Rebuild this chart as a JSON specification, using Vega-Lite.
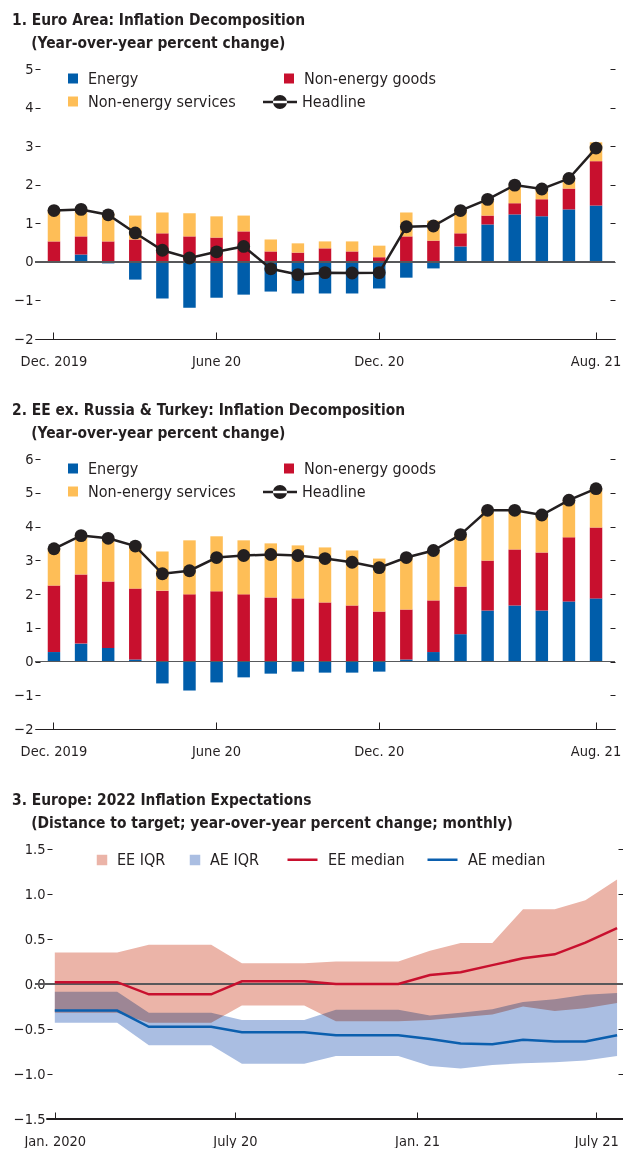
{
  "$schema": "https://vega.github.io/schema/vega-lite/v6.json",
  "background": "white",
  "padding": {"left": 12, "top": 12, "right": 0, "bottom": 0},
  "config": {
    "font": "DejaVu Sans Condensed",
    "view": {"stroke": null},
    "axis": {"labelFont": "DejaVu Sans Condensed", "labelFontSize": 14.5, "labelColor": "#231F20", "tickColor": "#231F20", "domainColor": "#231F20", "grid": false, "title": null, "labelAngle": 0},
    "legend": {"labelFont": "DejaVu Sans Condensed", "labelFontSize": 16, "labelColor": "#231F20", "title": null, "orient": "none", "padding": 0},
    "title": {"anchor": "start", "frame": "group", "font": "DejaVu Sans Condensed", "fontSize": 15.4, "fontWeight": "bold", "color": "#231F20", "lineHeight": 23, "offset": 10}
  },
  "datasets": {
    "ea": [
      {"m": "2019-12", "Energy": 0.0, "Non-energy goods": 0.53, "Non-energy services": 0.82, "Headline": 1.33},
      {"m": "2020-01", "Energy": 0.19, "Non-energy goods": 0.47, "Non-energy services": 0.72, "Headline": 1.36},
      {"m": "2020-02", "Energy": -0.04, "Non-energy goods": 0.53, "Non-energy services": 0.73, "Headline": 1.22},
      {"m": "2020-03", "Energy": -0.46, "Non-energy goods": 0.58, "Non-energy services": 0.62, "Headline": 0.75},
      {"m": "2020-04", "Energy": -0.95, "Non-energy goods": 0.74, "Non-energy services": 0.54, "Headline": 0.30},
      {"m": "2020-05", "Energy": -1.19, "Non-energy goods": 0.66, "Non-energy services": 0.60, "Headline": 0.10},
      {"m": "2020-06", "Energy": -0.93, "Non-energy goods": 0.63, "Non-energy services": 0.55, "Headline": 0.26},
      {"m": "2020-07", "Energy": -0.85, "Non-energy goods": 0.79, "Non-energy services": 0.41, "Headline": 0.40},
      {"m": "2020-08", "Energy": -0.77, "Non-energy goods": 0.27, "Non-energy services": 0.31, "Headline": -0.18},
      {"m": "2020-09", "Energy": -0.82, "Non-energy goods": 0.24, "Non-energy services": 0.24, "Headline": -0.33},
      {"m": "2020-10", "Energy": -0.82, "Non-energy goods": 0.35, "Non-energy services": 0.18, "Headline": -0.28},
      {"m": "2020-11", "Energy": -0.82, "Non-energy goods": 0.27, "Non-energy services": 0.26, "Headline": -0.29},
      {"m": "2020-12", "Energy": -0.69, "Non-energy goods": 0.12, "Non-energy services": 0.30, "Headline": -0.28},
      {"m": "2021-01", "Energy": -0.41, "Non-energy goods": 0.66, "Non-energy services": 0.62, "Headline": 0.91},
      {"m": "2021-02", "Energy": -0.17, "Non-energy goods": 0.55, "Non-energy services": 0.52, "Headline": 0.93},
      {"m": "2021-03", "Energy": 0.40, "Non-energy goods": 0.34, "Non-energy services": 0.64, "Headline": 1.33},
      {"m": "2021-04", "Energy": 0.97, "Non-energy goods": 0.23, "Non-energy services": 0.40, "Headline": 1.62},
      {"m": "2021-05", "Energy": 1.23, "Non-energy goods": 0.29, "Non-energy services": 0.45, "Headline": 1.99},
      {"m": "2021-06", "Energy": 1.18, "Non-energy goods": 0.44, "Non-energy services": 0.28, "Headline": 1.89},
      {"m": "2021-07", "Energy": 1.36, "Non-energy goods": 0.54, "Non-energy services": 0.28, "Headline": 2.16},
      {"m": "2021-08", "Energy": 1.46, "Non-energy goods": 1.15, "Non-energy services": 0.49, "Headline": 2.95}
    ],
    "ee": [
      {"m": "2019-12", "Energy": 0.28, "Non-energy goods": 1.97, "Non-energy services": 1.09, "Headline": 3.34},
      {"m": "2020-01", "Energy": 0.53, "Non-energy goods": 2.05, "Non-energy services": 1.15, "Headline": 3.73},
      {"m": "2020-02", "Energy": 0.40, "Non-energy goods": 1.97, "Non-energy services": 1.28, "Headline": 3.65},
      {"m": "2020-03", "Energy": 0.06, "Non-energy goods": 2.10, "Non-energy services": 1.26, "Headline": 3.42},
      {"m": "2020-04", "Energy": -0.65, "Non-energy goods": 2.10, "Non-energy services": 1.16, "Headline": 2.60},
      {"m": "2020-05", "Energy": -0.86, "Non-energy goods": 1.99, "Non-energy services": 1.60, "Headline": 2.69},
      {"m": "2020-06", "Energy": -0.62, "Non-energy goods": 2.08, "Non-energy services": 1.63, "Headline": 3.08},
      {"m": "2020-07", "Energy": -0.47, "Non-energy goods": 1.99, "Non-energy services": 1.60, "Headline": 3.14},
      {"m": "2020-08", "Energy": -0.36, "Non-energy goods": 1.90, "Non-energy services": 1.60, "Headline": 3.17},
      {"m": "2020-09", "Energy": -0.30, "Non-energy goods": 1.87, "Non-energy services": 1.57, "Headline": 3.14},
      {"m": "2020-10", "Energy": -0.33, "Non-energy goods": 1.75, "Non-energy services": 1.63, "Headline": 3.05},
      {"m": "2020-11", "Energy": -0.33, "Non-energy goods": 1.66, "Non-energy services": 1.63, "Headline": 2.94},
      {"m": "2020-12", "Energy": -0.30, "Non-energy goods": 1.48, "Non-energy services": 1.57, "Headline": 2.78},
      {"m": "2021-01", "Energy": 0.06, "Non-energy goods": 1.48, "Non-energy services": 1.56, "Headline": 3.08},
      {"m": "2021-02", "Energy": 0.28, "Non-energy goods": 1.53, "Non-energy services": 1.48, "Headline": 3.29},
      {"m": "2021-03", "Energy": 0.81, "Non-energy goods": 1.41, "Non-energy services": 1.54, "Headline": 3.76},
      {"m": "2021-04", "Energy": 1.51, "Non-energy goods": 1.48, "Non-energy services": 1.49, "Headline": 4.48},
      {"m": "2021-05", "Energy": 1.66, "Non-energy goods": 1.66, "Non-energy services": 1.16, "Headline": 4.48},
      {"m": "2021-06", "Energy": 1.51, "Non-energy goods": 1.72, "Non-energy services": 1.11, "Headline": 4.34},
      {"m": "2021-07", "Energy": 1.78, "Non-energy goods": 1.90, "Non-energy services": 1.10, "Headline": 4.78},
      {"m": "2021-08", "Energy": 1.87, "Non-energy goods": 2.10, "Non-energy services": 1.15, "Headline": 5.12}
    ],
    "exp": [
      {"date": "2020-01-01", "ee_lo": -0.32, "ee_hi": 0.35, "ee_med": 0.02, "ae_lo": -0.43, "ae_hi": -0.085, "ae_med": -0.295},
      {"date": "2020-02-01", "ee_lo": -0.32, "ee_hi": 0.35, "ee_med": 0.02, "ae_lo": -0.43, "ae_hi": -0.085, "ae_med": -0.295},
      {"date": "2020-03-04", "ee_lo": -0.32, "ee_hi": 0.35, "ee_med": 0.02, "ae_lo": -0.43, "ae_hi": -0.085, "ae_med": -0.295},
      {"date": "2020-04-05", "ee_lo": -0.43, "ee_hi": 0.435, "ee_med": -0.115, "ae_lo": -0.68, "ae_hi": -0.32, "ae_med": -0.475},
      {"date": "2020-05-06", "ee_lo": -0.43, "ee_hi": 0.435, "ee_med": -0.115, "ae_lo": -0.68, "ae_hi": -0.32, "ae_med": -0.475},
      {"date": "2020-06-07", "ee_lo": -0.43, "ee_hi": 0.435, "ee_med": -0.115, "ae_lo": -0.68, "ae_hi": -0.32, "ae_med": -0.475},
      {"date": "2020-07-08", "ee_lo": -0.24, "ee_hi": 0.23, "ee_med": 0.03, "ae_lo": -0.885, "ae_hi": -0.40, "ae_med": -0.535},
      {"date": "2020-08-09", "ee_lo": -0.24, "ee_hi": 0.23, "ee_med": 0.03, "ae_lo": -0.885, "ae_hi": -0.40, "ae_med": -0.535},
      {"date": "2020-09-09", "ee_lo": -0.24, "ee_hi": 0.23, "ee_med": 0.03, "ae_lo": -0.885, "ae_hi": -0.40, "ae_med": -0.535},
      {"date": "2020-10-11", "ee_lo": -0.415, "ee_hi": 0.25, "ee_med": 0.0, "ae_lo": -0.80, "ae_hi": -0.285, "ae_med": -0.57},
      {"date": "2020-11-11", "ee_lo": -0.415, "ee_hi": 0.25, "ee_med": 0.0, "ae_lo": -0.80, "ae_hi": -0.285, "ae_med": -0.57},
      {"date": "2020-12-13", "ee_lo": -0.415, "ee_hi": 0.25, "ee_med": 0.0, "ae_lo": -0.80, "ae_hi": -0.285, "ae_med": -0.57},
      {"date": "2021-01-14", "ee_lo": -0.40, "ee_hi": 0.37, "ee_med": 0.10, "ae_lo": -0.91, "ae_hi": -0.35, "ae_med": -0.61},
      {"date": "2021-02-14", "ee_lo": -0.37, "ee_hi": 0.455, "ee_med": 0.13, "ae_lo": -0.94, "ae_hi": -0.32, "ae_med": -0.66},
      {"date": "2021-03-18", "ee_lo": -0.34, "ee_hi": 0.455, "ee_med": 0.21, "ae_lo": -0.90, "ae_hi": -0.28, "ae_med": -0.67},
      {"date": "2021-04-18", "ee_lo": -0.25, "ee_hi": 0.83, "ee_med": 0.285, "ae_lo": -0.88, "ae_hi": -0.20, "ae_med": -0.62},
      {"date": "2021-05-20", "ee_lo": -0.30, "ee_hi": 0.83, "ee_med": 0.33, "ae_lo": -0.87, "ae_hi": -0.17, "ae_med": -0.64},
      {"date": "2021-06-20", "ee_lo": -0.27, "ee_hi": 0.93, "ee_med": 0.46, "ae_lo": -0.85, "ae_hi": -0.12, "ae_med": -0.64},
      {"date": "2021-07-22", "ee_lo": -0.21, "ee_hi": 1.16, "ee_med": 0.62, "ae_lo": -0.80, "ae_hi": -0.10, "ae_med": -0.57}
    ]
  },
  "columns": 1,
  "spacing": 34,
  "resolve": {"scale": {"color": "independent", "stroke": "independent", "fill": "independent", "x": "independent", "y": "independent"}},
  "concat": [
    {
      "width": 580, "height": 270,
      "title": {"text": ["1. Euro Area: Inflation Decomposition", "\u200b\u00a0\u00a0\u00a0\u00a0(Year-over-year percent change)"], "dx": -23},
      "data": {"name": "ea"},
      "resolve": {"axis": {"y": "independent"}},
      "layer": [
        {
          "transform": [{"fold": ["Energy", "Non-energy goods", "Non-energy services"], "as": ["component", "value"]}],
          "mark": {"type": "bar"},
          "encoding": {
            "x": {"field": "m", "type": "ordinal", "scale": {"paddingInner": 0.54, "paddingOuter": 0.47},
                  "axis": {"values": ["2019-12", "2020-06", "2020-12", "2021-08"], "labelExpr": "datum.value=='2019-12'?'Dec. 2019':datum.value=='2020-06'?'June 20':datum.value=='2020-12'?'Dec. 20':'Aug. 21'", "tickSize": -7, "labelPadding": 22, "domainWidth": 1.2}},
            "y": {"field": "value", "type": "quantitative", "stack": "zero", "scale": {"domain": [-2, 5], "nice": false, "zero": false},
                  "axis": {"orient": "left", "values": [-2, -1, 0, 1, 2, 3, 4, 5], "tickSize": -5, "labelPadding": 7, "domain": false}},
            "color": {"field": "component", "type": "nominal",
                      "scale": {"domain": ["Energy", "Non-energy goods", "Non-energy services"], "range": ["#005DAA", "#C8102E", "#FEBE57"]},
                      "legend": {"legendX": 30, "legendY": 1.5, "direction": "horizontal", "columns": 2, "columnPadding": 45, "rowPadding": 7, "symbolType": "square", "symbolSize": 100, "symbolStrokeWidth": 0, "labelOffset": 7}},
            "order": {"field": "component", "sort": "ascending"}
          }
        },
        {
          "mark": {"type": "rule", "color": "#58595B", "strokeWidth": 1},
          "encoding": {"y": {"datum": 0, "type": "quantitative", "axis": {"orient": "right", "values": [-2, -1, 0, 1, 2, 3, 4, 5], "tickSize": -5, "labels": false, "domain": false}}}
        },
        {
          "mark": {"type": "line", "strokeWidth": 2.5},
          "encoding": {
            "x": {"field": "m", "type": "ordinal"},
            "y": {"field": "Headline", "type": "quantitative", "axis": null},
            "stroke": {"datum": "Headline", "scale": {"domain": ["Headline"], "range": ["#231F20"]},
                       "legend": {"legendX": 228, "legendY": 16, "symbolType": "M-1,-0.075H1V0.075H-1Z M-0.41,0A0.41,0.41,0,1,0,0.41,0A0.41,0.41,0,1,0,-0.41,0Z", "symbolSize": 1156, "symbolFillColor": "#231F20", "symbolStrokeWidth": 0, "labelOffset": 5,
                                  "encode": {"symbols": {"update": {"fill": {"value": "#231F20"}, "strokeWidth": {"value": 0}}}}}}
          }
        },
        {
          "mark": {"type": "point", "filled": true, "size": 165, "color": "#231F20", "opacity": 1},
          "encoding": {
            "x": {"field": "m", "type": "ordinal"},
            "y": {"field": "Headline", "type": "quantitative", "axis": null}
          }
        }
      ]
    },
    {
      "width": 580, "height": 270,
      "title": {"text": ["2. EE ex. Russia & Turkey: Inflation Decomposition", "\u200b\u00a0\u00a0\u00a0\u00a0(Year-over-year percent change)"], "dx": -23},
      "data": {"name": "ee"},
      "resolve": {"axis": {"y": "independent"}},
      "layer": [
        {
          "transform": [{"fold": ["Energy", "Non-energy goods", "Non-energy services"], "as": ["component", "value"]}],
          "mark": {"type": "bar"},
          "encoding": {
            "x": {"field": "m", "type": "ordinal", "scale": {"paddingInner": 0.54, "paddingOuter": 0.47},
                  "axis": {"values": ["2019-12", "2020-06", "2020-12", "2021-08"], "labelExpr": "datum.value=='2019-12'?'Dec. 2019':datum.value=='2020-06'?'June 20':datum.value=='2020-12'?'Dec. 20':'Aug. 21'", "tickSize": -7, "labelPadding": 22, "domainWidth": 1.2}},
            "y": {"field": "value", "type": "quantitative", "stack": "zero", "scale": {"domain": [-2, 6], "nice": false, "zero": false},
                  "axis": {"orient": "left", "values": [-2, -1, 0, 1, 2, 3, 4, 5, 6], "tickSize": -5, "labelPadding": 7, "domain": false}},
            "color": {"field": "component", "type": "nominal",
                      "scale": {"domain": ["Energy", "Non-energy goods", "Non-energy services"], "range": ["#005DAA", "#C8102E", "#FEBE57"]},
                      "legend": {"legendX": 30, "legendY": 1.5, "direction": "horizontal", "columns": 2, "columnPadding": 45, "rowPadding": 7, "symbolType": "square", "symbolSize": 100, "symbolStrokeWidth": 0, "labelOffset": 7}},
            "order": {"field": "component", "sort": "ascending"}
          }
        },
        {
          "mark": {"type": "rule", "color": "#58595B", "strokeWidth": 1},
          "encoding": {"y": {"datum": 0, "type": "quantitative", "axis": {"orient": "right", "values": [-2, -1, 0, 1, 2, 3, 4, 5, 6], "tickSize": -5, "labels": false, "domain": false}}}
        },
        {
          "mark": {"type": "line", "strokeWidth": 2.5},
          "encoding": {
            "x": {"field": "m", "type": "ordinal"},
            "y": {"field": "Headline", "type": "quantitative", "axis": null},
            "stroke": {"datum": "Headline", "scale": {"domain": ["Headline"], "range": ["#231F20"]},
                       "legend": {"legendX": 228, "legendY": 16, "symbolType": "M-1,-0.075H1V0.075H-1Z M-0.41,0A0.41,0.41,0,1,0,0.41,0A0.41,0.41,0,1,0,-0.41,0Z", "symbolSize": 1156, "symbolFillColor": "#231F20", "symbolStrokeWidth": 0, "labelOffset": 5,
                                  "encode": {"symbols": {"update": {"fill": {"value": "#231F20"}, "strokeWidth": {"value": 0}}}}}}
          }
        },
        {
          "mark": {"type": "point", "filled": true, "size": 165, "color": "#231F20", "opacity": 1},
          "encoding": {
            "x": {"field": "m", "type": "ordinal"},
            "y": {"field": "Headline", "type": "quantitative", "axis": null}
          }
        }
      ]
    },
    {
      "width": 588, "height": 270,
      "title": {"text": ["3. Europe: 2022 Inflation Expectations", "\u200b\u00a0\u00a0\u00a0\u00a0(Distance to target; year-over-year percent change; monthly)"], "dx": -23},
      "data": {"name": "exp"},
      "resolve": {"axis": {"y": "independent"}},
      "layer": [
        {
          "mark": {"type": "area", "blend": "multiply", "opacity": 1},
          "encoding": {
            "x": {"field": "date", "type": "temporal",
                  "scale": {"domain": [{"year": 2019, "month": 12, "date": 12}, {"year": 2021, "month": 7, "date": 28}]},
                  "axis": {"values": [{"year": 2020, "month": 1, "date": 1}, {"year": 2020, "month": 7, "date": 1}, {"year": 2021, "month": 1, "date": 1}, {"year": 2021, "month": 7, "date": 1}],
                           "labelExpr": "month(datum.value)==0 ? (year(datum.value)==2020 ? 'Jan. 2020' : 'Jan. 21') : (year(datum.value)==2020 ? 'July 20' : 'July 21')",
                           "tickSize": -7, "labelPadding": 22, "domain": false, "labelFlush": false}},
            "y": {"field": "ae_lo", "type": "quantitative", "scale": {"domain": [-1.5, 1.5], "nice": false, "zero": false},
                  "axis": {"orient": "left", "offset": -12, "values": [-1.5, -1, -0.5, 0, 0.5, 1, 1.5], "format": ".1f", "tickSize": -5, "labelPadding": 7, "domain": false}},
            "y2": {"field": "ae_hi"},
            "fill": {"datum": "AE IQR", "scale": {"domain": ["EE IQR", "AE IQR"], "range": ["#EBB4A8", "#AABEE2"]},
                     "legend": {"legendX": 59, "legendY": 3, "direction": "horizontal", "columnPadding": 21, "symbolType": "square", "symbolSize": 110, "symbolStrokeWidth": 0, "labelOffset": 7}}
          }
        },
        {
          "mark": {"type": "area", "blend": "multiply", "opacity": 1},
          "encoding": {
            "x": {"field": "date", "type": "temporal"},
            "y": {"field": "ee_lo", "type": "quantitative", "axis": null},
            "y2": {"field": "ee_hi"},
            "fill": {"datum": "EE IQR"}
          }
        },
        {
          "mark": {"type": "rule", "color": "#58595B", "strokeWidth": 1},
          "encoding": {"y": {"datum": 0, "type": "quantitative", "axis": {"orient": "right", "values": [-1.5, -1, -0.5, 0, 0.5, 1, 1.5], "tickSize": -5, "labels": false, "domain": false}}}
        },
        {
          "mark": {"type": "rule", "color": "#231F20", "strokeWidth": 1.2},
          "encoding": {
            "x": {"datum": {"year": 2019, "month": 12, "date": 24}, "type": "temporal"},
            "x2": {"datum": {"year": 2021, "month": 7, "date": 28}},
            "y": {"datum": -1.5, "type": "quantitative", "axis": null}
          }
        },
        {
          "mark": {"type": "line", "strokeWidth": 2.5},
          "encoding": {
            "x": {"field": "date", "type": "temporal"},
            "y": {"field": "ee_med", "type": "quantitative", "axis": null},
            "stroke": {"datum": "EE median", "scale": {"domain": ["EE median", "AE median"], "range": ["#C8102E", "#0B5FAE"]},
                       "legend": {"legendX": 251, "legendY": -6, "direction": "horizontal", "columnPadding": 17, "symbolType": "stroke", "symbolSize": 900, "symbolStrokeWidth": 2.5, "labelOffset": 9}}
          }
        },
        {
          "mark": {"type": "line", "strokeWidth": 2.5},
          "encoding": {
            "x": {"field": "date", "type": "temporal"},
            "y": {"field": "ae_med", "type": "quantitative", "axis": null},
            "stroke": {"datum": "AE median"}
          }
        }
      ]
    }
  ]
}
